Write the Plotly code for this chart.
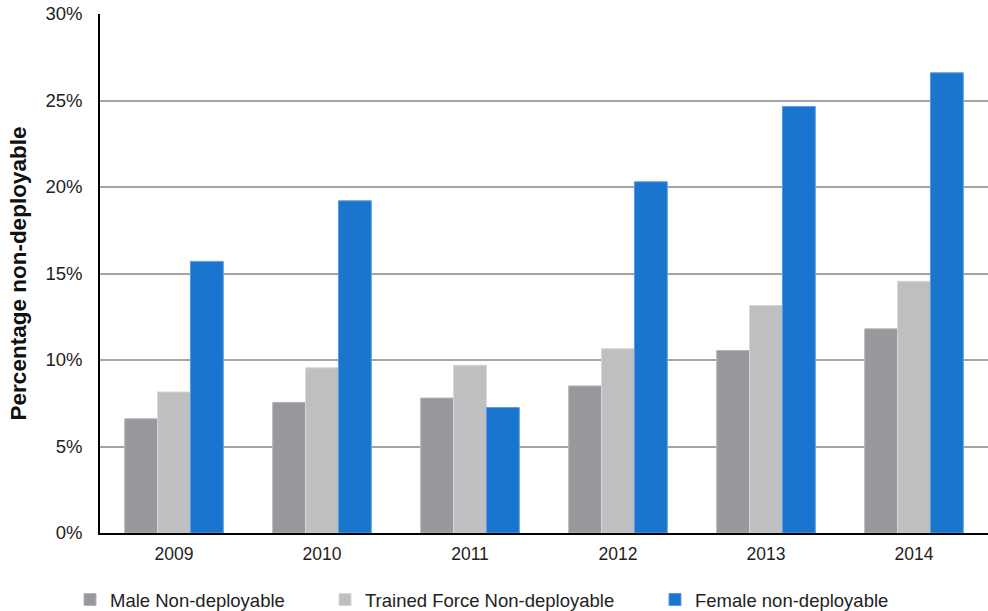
import plotly.graph_objects as go

years = ["2009", "2010", "2011", "2012", "2013", "2014"]
male = [6.6, 7.55, 7.8, 8.5, 10.55, 11.8]
trained = [8.15, 9.55, 9.7, 10.65, 13.15, 14.55]
female = [15.7, 19.2, 7.25, 20.3, 24.65, 26.6]

series = [
    ("Male Non-deployable", male, "#98989c", "#b4b4b7", "legend"),
    ("Trained Force Non-deployable", trained, "#bebfc1", "#d6d7d8", "legend2"),
    ("Female non-deployable", female, "#1a75cf", "#5a9be0", "legend3"),
]

fig = go.Figure()
for name, vals, col, lcol, lg in series:
    fig.add_trace(go.Bar(
        x=years, y=vals, name=name, legend=lg,
        marker=dict(color=col, line=dict(color=lcol, width=1)),
    ))

W = 988.0
H = 611.0
def leg(xpx):
    return dict(orientation="h", xref="container", yref="container",
                x=xpx / W, y=(H - 600) / H, xanchor="left", yanchor="middle",
                font=dict(size=18.5, color="#222222"), itemwidth=30,
                bgcolor="rgba(0,0,0,0)")

fig.update_layout(
    width=988, height=611,
    margin=dict(l=100, r=0, t=14, b=78),
    paper_bgcolor="white", plot_bgcolor="white",
    barmode="group", bargap=0.334, bargroupgap=0,
    font=dict(family="Liberation Sans, Arial, sans-serif", size=18, color="#222222"),
    showlegend=True,
    legend=leg(70), legend2=leg(325), legend3=leg(655),
)
fig.update_xaxes(
    showline=True, linecolor="black", linewidth=1.5, automargin=False,
    ticks="", tickfont=dict(size=17.5), showgrid=False, ticklabelstandoff=4,
)
fig.update_yaxes(
    range=[0, 30], tickvals=[0, 5, 10, 15, 20, 25, 30],
    ticktext=["0%", "5%", "10%", "15%", "20%", "25%", "30%"],
    showline=True, linecolor="black", linewidth=1.5, automargin=False,
    showgrid=True, gridcolor="#a6a6a9", gridwidth=2,
    zeroline=False, ticks="", ticklabelstandoff=12, tickfont=dict(size=18.5),
    title=dict(text="<b>Percentage non-deployable</b>", font=dict(size=22.5, color="#111111"), standoff=13),
)

fig.write_html("out.html", config={"displayModeBar": False},
               post_script="document.body.style.margin='0';document.body.style.overflow='hidden';")
